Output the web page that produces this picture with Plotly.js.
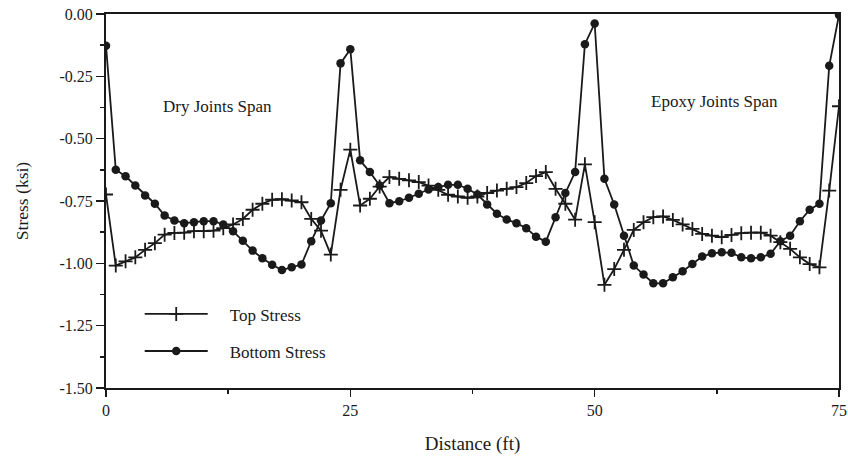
<!DOCTYPE html>
<html>
<head>
<meta charset="utf-8">
<script src="https://cdn.plot.ly/plotly-3.0.1.min.js"></script>
<style>html,body{margin:0;padding:0;background:#fff;}#chart{width:848px;height:457px;}</style>
</head>
<body>
<div id="chart"></div>
<script>
const distance = Array.from({length: 76}, (_, i) => i);

const topStress = [
  -0.724, -1.009, -0.992, -0.976, -0.946, -0.919, -0.885, -0.878, -0.877, -0.871,
  -0.871, -0.869, -0.859, -0.844, -0.822, -0.785, -0.761, -0.745, -0.743, -0.748,
  -0.755, -0.822, -0.869, -0.965, -0.705, -0.544, -0.768, -0.741, -0.692, -0.654,
  -0.661, -0.667, -0.674, -0.688, -0.705, -0.725, -0.732, -0.737, -0.732, -0.718,
  -0.708, -0.701, -0.694, -0.678, -0.650, -0.634, -0.701, -0.761, -0.825, -0.603,
  -0.835, -1.086, -1.023, -0.946, -0.866, -0.835, -0.815, -0.812, -0.826, -0.844,
  -0.862, -0.882, -0.889, -0.895, -0.886, -0.879, -0.877, -0.877, -0.889, -0.915,
  -0.942, -0.976, -1.003, -1.016, -0.708, -0.370
];

const bottomStress = [
  -0.127, -0.625, -0.651, -0.688, -0.728, -0.761, -0.808, -0.828, -0.839, -0.835,
  -0.831, -0.831, -0.844, -0.871, -0.909, -0.949, -0.980, -1.006, -1.027, -1.016,
  -1.005, -0.911, -0.828, -0.759, -0.198, -0.141, -0.587, -0.634, -0.688, -0.759,
  -0.751, -0.737, -0.721, -0.704, -0.694, -0.685, -0.685, -0.701, -0.724, -0.764,
  -0.801, -0.824, -0.839, -0.859, -0.893, -0.913, -0.815, -0.718, -0.634, -0.121,
  -0.038, -0.661, -0.764, -0.889, -1.009, -1.045, -1.080, -1.080, -1.056, -1.032,
  -1.003, -0.973, -0.960, -0.956, -0.958, -0.976, -0.980, -0.976, -0.962, -0.911,
  -0.889, -0.831, -0.785, -0.761, -0.208, -0.004
];

const seriesNames = ["Top Stress", "Bottom Stress"];
const xTickVals = [0, 25, 50, 75];
const xTickText = ["0", "25", "50", "75"];
const yTickVals = [0, -0.25, -0.5, -0.75, -1.0, -1.25, -1.5];
const yTickText = ["0.00", "-0.25", "-0.50", "-0.75", "-1.00", "-1.25", "-1.50"];
const spanLabels = ["Dry Joints Span", "Epoxy Joints Span"];
const spanLabelX = [11.4, 62.3];
const spanLabelY = [-0.37, -0.352];

const font = "'Liberation Serif', 'Times New Roman', serif";
const ink = "#1a1a1a";
const pad = "\u00a0\u00a0\u00a0\u00a0";

const traces = [
  {
    x: distance, y: topStress, name: pad + seriesNames[0], type: "scatter", mode: "lines+markers",
    legendgroup: "a",
    line: {color: ink, width: 1.8},
    marker: {symbol: "cross-thin", size: 10, line: {color: ink, width: 1.8}, color: ink}
  },
  {
    x: distance, y: bottomStress, name: pad + seriesNames[1], type: "scatter", mode: "lines+markers",
    legendgroup: "b",
    line: {color: ink, width: 1.8},
    marker: {symbol: "circle", size: 8.5, color: ink, line: {width: 0}}
  }
];

const layout = {
  width: 848, height: 457,
  margin: {l: 106, r: 9, t: 14, b: 69},
  paper_bgcolor: "#fff", plot_bgcolor: "#fff",
  font: {family: font, color: ink, size: 16},
  showlegend: true,
  legend: {
    x: 0.046, y: 0.245, xanchor: "left", yanchor: "top",
    bgcolor: "rgba(0,0,0,0)", font: {family: font, size: 17, color: ink},
    itemwidth: 63, tracegroupgap: 12, traceorder: "grouped"
  },
  xaxis: {
    range: [0, 75], tickvals: xTickVals, ticktext: xTickText,
    showgrid: false, zeroline: false, showline: true, linecolor: ink, linewidth: 2,
    mirror: true, ticks: "outside", ticklen: 7, tickwidth: 1.5, tickcolor: ink,
    minor: {ticks: "outside", ticklen: 4, tickwidth: 1.5, tickcolor: ink, dtick: 12.5, tick0: 0, showgrid: false},
    tickfont: {family: font, size: 16, color: ink},
    title: {text: "Distance (ft)", font: {family: font, size: 19, color: ink}, standoff: 18}
  },
  yaxis: {
    range: [-1.5, 0], tickvals: yTickVals, ticktext: yTickText,
    showgrid: false, zeroline: false, showline: true, linecolor: ink, linewidth: 2,
    mirror: true, ticks: "outside", ticklen: 8, tickwidth: 1.5, tickcolor: ink,
    minor: {ticks: "outside", ticklen: 4, tickwidth: 1.5, tickcolor: ink, dtick: 0.125, tick0: 0, showgrid: false},
    tickfont: {family: font, size: 16, color: ink},
    title: {text: "Stress (ksi)", font: {family: font, size: 17.5, color: ink}, standoff: 26}
  },
  annotations: spanLabels.map((t, i) => ({
    x: spanLabelX[i], y: spanLabelY[i], xref: "x", yref: "y", text: t, showarrow: false,
    font: {family: font, size: 17, color: ink}
  }))
};

Plotly.newPlot("chart", traces, layout, {displayModeBar: false, staticPlot: true});
</script>
</body>
</html>
